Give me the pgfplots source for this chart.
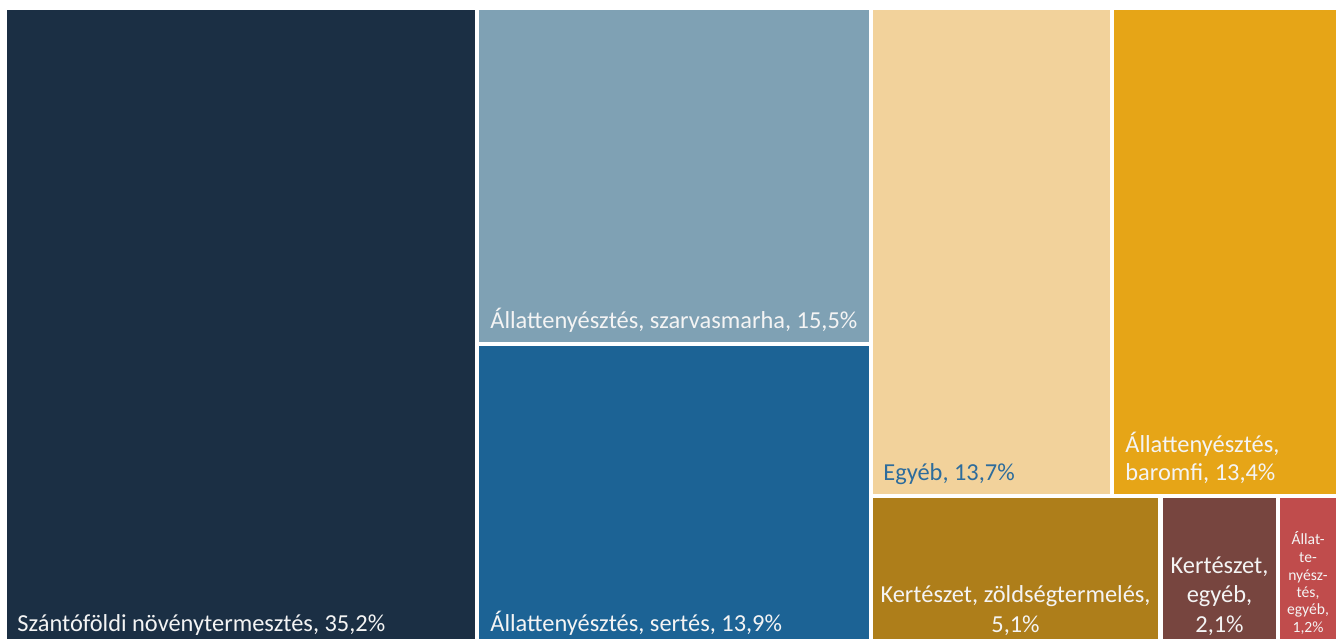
\documentclass[border=0pt]{standalone}
\usepackage{fontspec}
\setmainfont{Carlito}
\usepackage{pgfplots}
\pgfplotsset{compat=1.18}
\definecolor{cNavy}{HTML}{1B2F44}
\definecolor{cSteel}{HTML}{7FA1B4}
\definecolor{cBlue}{HTML}{1C6395}
\definecolor{cTan}{HTML}{F2D29B}
\definecolor{cGold}{HTML}{E6A517}
\definecolor{cDGold}{HTML}{AE7E1A}
\definecolor{cBrown}{HTML}{77453F}
\definecolor{cRed}{HTML}{C04C4C}
\definecolor{cTxt}{HTML}{F4F4F4}
\definecolor{cTxtBlue}{HTML}{2D6C9C}
\tikzset{
  lbl/.style={inner sep=0pt,text=cTxt,font=\fontsize{12.2}{14.5}\selectfont},
  sml/.style={inner sep=0pt,text=cTxt,font=\fontsize{7.8}{9}\selectfont,anchor=base}}
\begin{document}
\begin{tikzpicture}
\begin{axis}[width=668pt,height=319.5pt,scale only axis,hide axis,
  xmin=0,xmax=1336,ymin=0,ymax=639,y dir=reverse,clip=true]
\addplot[fill=white,draw=none] coordinates {(0,0)(1336,0)(1336,639)(0,639)} --cycle;
% rectangles (pixel coordinates of the treemap tiles)
\addplot[fill=cNavy,draw=none] coordinates {(7,10)(475,10)(475,639)(7,639)} --cycle;
\addplot[fill=cSteel,draw=none] coordinates {(479,10)(869,10)(869,342)(479,342)} --cycle;
\addplot[fill=cBlue,draw=none] coordinates {(479,346)(869,346)(869,639)(479,639)} --cycle;
\addplot[fill=cTan,draw=none] coordinates {(873,10)(1110,10)(1110,494)(873,494)} --cycle;
\addplot[fill=cGold,draw=none] coordinates {(1114,10)(1336,10)(1336,494)(1114,494)} --cycle;
\addplot[fill=cDGold,draw=none] coordinates {(873,498)(1158,498)(1158,639)(873,639)} --cycle;
\addplot[fill=cBrown,draw=none] coordinates {(1163,498)(1276,498)(1276,639)(1163,639)} --cycle;
\addplot[fill=cRed,draw=none] coordinates {(1280,498)(1336,498)(1336,639)(1280,639)} --cycle;
% labels
\node[lbl,anchor=base west] at (axis cs:17,631) {Szántóföldi növénytermesztés, 35,2\%};
\node[lbl,anchor=base west] at (axis cs:490,328) {Állattenyésztés, szarvasmarha, 15,5\%};
\node[lbl,anchor=base west] at (axis cs:490,631) {Állattenyésztés, sertés, 13,9\%};
\node[lbl,anchor=base west,text=cTxtBlue] at (axis cs:883,480) {Egyéb, 13,7\%};
\node[lbl,anchor=base west] at (axis cs:1125,452) {Állattenyésztés,};
\node[lbl,anchor=base west] at (axis cs:1125,480) {baromfi, 13,4\%};
\node[lbl,anchor=base] at (axis cs:1015.5,602) {Kertészet, zöldségtermelés,};
\node[lbl,anchor=base] at (axis cs:1015.5,632) {5,1\%};
\node[lbl,anchor=base] at (axis cs:1219.5,573) {Kertészet,};
\node[lbl,anchor=base] at (axis cs:1219.5,602) {egyéb,};
\node[lbl,anchor=base] at (axis cs:1219.5,632) {2,1\%};
\node[sml] at (axis cs:1308,544) {Állat-};
\node[sml] at (axis cs:1308,562) {te-};
\node[sml] at (axis cs:1308,580) {nyész-};
\node[sml] at (axis cs:1308,597) {tés,};
\node[sml] at (axis cs:1308,614) {egyéb,};
\node[sml] at (axis cs:1308,632) {1,2\%};
\end{axis}
\end{tikzpicture}
\end{document}
